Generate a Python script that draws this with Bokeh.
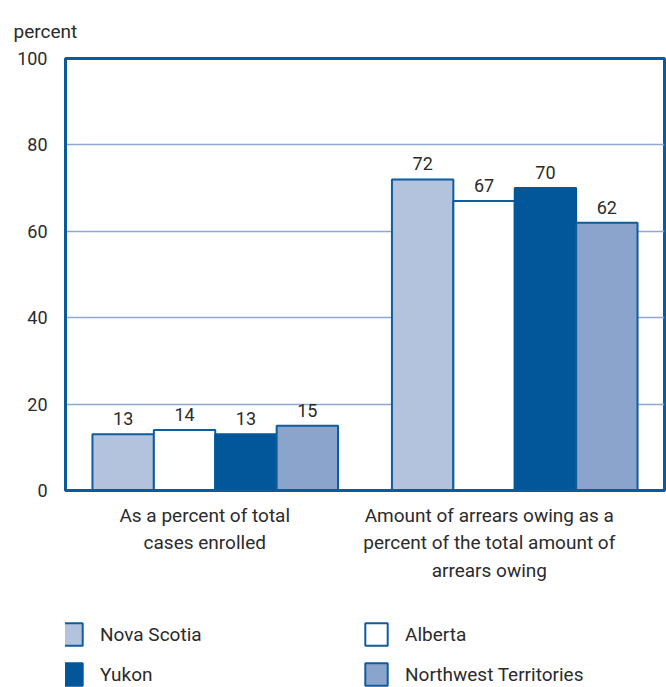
from bokeh.plotting import figure
from bokeh.layouts import column
from bokeh.models import (ColumnDataSource, Range1d, FixedTicker,
                          Legend, LegendItem)
from bokeh.core.properties import value
from bokeh.embed import file_html
from bokeh.resources import INLINE

categories = [
    "As a percent of total\ncases enrolled",
    "Amount of arrears owing as a\npercent of the total amount of\narrears owing",
]
provinces = ["Nova Scotia", "Alberta", "Yukon", "Northwest Territories"]
nova_scotia = [13, 72]
alberta = [14, 67]
yukon = [13, 70]
northwest_territories = [15, 62]
y_ticks = [0, 20, 40, 60, 80, 100]

series = [nova_scotia, alberta, yukon, northwest_territories]
fills = ["#B3C3DE", "#FFFFFF", "#02579A", "#8BA4CC"]
edges = ["#0D5D9F", "#0D5D9F", "#02579A", "#0D5D9F"]

# bar placement within each category slot (slot width = 1)
offsets = [-0.3075, -0.1025, 0.1025, 0.3075]
bar_w = 0.205
# category captions sit a little left of each group's centre
caption_shift = [-0.035, -0.085]

FONT = "Roboto"
DARK = "#0B5A9B"
TXT = "#2b2b2b"

centers = [i + 0.5 for i in range(len(categories))]

p = figure(width=666, height=610, x_range=Range1d(0, len(categories)),
           y_range=Range1d(0, 100), output_backend="svg", toolbar_location=None,
           min_border_left=65, min_border_right=2, min_border_top=58,
           min_border_bottom=120)

for name, vals, fc, lc, off in zip(provinces, series, fills, edges, offsets):
    src = ColumnDataSource(dict(x=[c + off for c in centers], val=vals,
                                lab=[str(v) for v in vals]))
    p.vbar(x="x", top="val", width=bar_w, source=src,
           fill_color=fc, line_color=lc, line_width=2)
    p.text(x="x", y="val", text="lab", source=src, text_align="center",
           text_baseline="bottom", y_offset=-9, text_font=value(FONT),
           text_font_size="18px", text_color=TXT)

# unit caption over the value axis
p.title.text = "percent"
p.title.align = "left"
p.title.offset = -52
p.title.standoff = 32
p.title.text_font = FONT
p.title.text_font_size = "19px"
p.title.text_font_style = "normal"
p.title.text_color = TXT

p.yaxis.ticker = FixedTicker(ticks=y_ticks)
p.yaxis.axis_line_color = DARK
p.yaxis.axis_line_width = 3
p.yaxis.major_tick_line_color = None
p.yaxis.minor_tick_line_color = None
p.yaxis.major_label_text_font = FONT
p.yaxis.major_label_text_font_size = "18px"
p.yaxis.major_label_text_color = TXT
p.yaxis.major_label_standoff = 12

caption_pos = [c + s for c, s in zip(centers, caption_shift)]
p.xaxis.ticker = FixedTicker(ticks=caption_pos)
p.xaxis.major_label_overrides = {pos: cat for pos, cat in zip(caption_pos, categories)}
p.xaxis.axis_line_color = DARK
p.xaxis.axis_line_width = 3
p.xaxis.major_tick_line_color = None
p.xaxis.minor_tick_line_color = None
p.xaxis.major_label_text_font = FONT
p.xaxis.major_label_text_font_size = "19px"
p.xaxis.major_label_text_color = TXT
p.xaxis.major_label_standoff = 7

p.xgrid.grid_line_color = None
p.ygrid.grid_line_color = "#8DA9D1"
p.ygrid.grid_line_width = 1.5

p.outline_line_color = DARK
p.outline_line_width = 3
p.outline_line_alpha = 1

# separate strip holding the legend; swatch renderers carry no drawable data
lg = figure(width=666, height=77, x_range=Range1d(0, 1), y_range=Range1d(0, 1),
            output_backend="svg", toolbar_location=None,
            min_border=0, outline_line_color=None)
lg.axis.visible = False
lg.grid.visible = False
nan = float("nan")
items = {}
for name, fc, lc in zip(provinces, fills, edges):
    r = lg.vbar(x=[nan], top=[nan], width=0.1, fill_color=fc,
                line_color=lc, line_width=2)
    items[name] = LegendItem(label=name, renderers=[r])

# legend is filled column by column, so list the left column first
legend_order = ["Nova Scotia", "Yukon", "Alberta", "Northwest Territories"]
legend = Legend(items=[items[n] for n in legend_order], ncols=2,
                glyph_width=28, glyph_height=28,
                label_text_font=FONT, label_text_font_size="19px",
                label_text_color=TXT, label_width=250, spacing=12,
                label_standoff=15, padding=0, margin=0,
                border_line_color=None, background_fill_alpha=0,
                location=(-8, -1))
lg.add_layout(legend)

open("out.html", "w").write(file_html(column(p, lg), INLINE))
